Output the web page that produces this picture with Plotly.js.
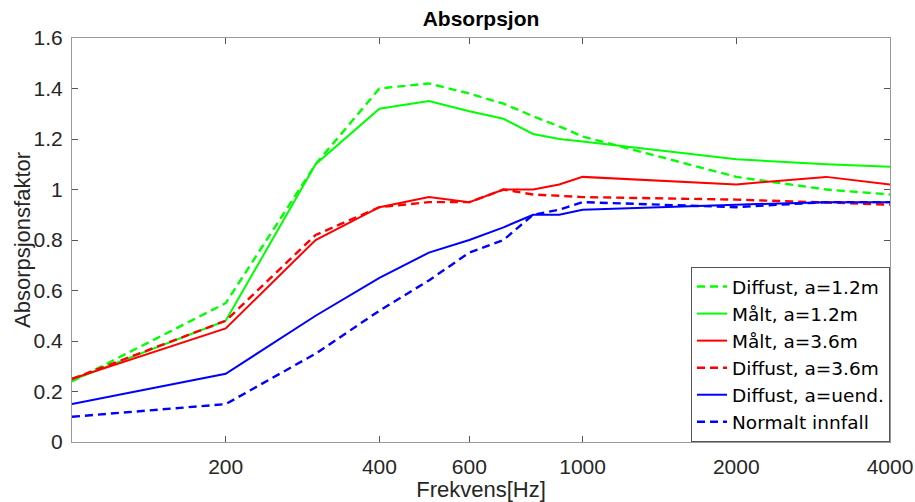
<!DOCTYPE html>
<html>
<head>
<meta charset="utf-8">
<script src="https://cdn.plot.ly/plotly-3.0.1.min.js"></script>
<style>html,body{margin:0;padding:0;background:#fff;}#chart{width:915px;height:502px;}</style>
</head>
<body>
<div id="chart"></div>
<script>
// Frequencies (Hz)
const freq = [100, 200, 300, 400, 500, 600, 700, 800, 900, 1000, 2000, 3000, 4000];
// Series values (absorption factor)
const diffust12 = [0.24, 0.55, 1.10, 1.40, 1.42, 1.38, 1.34, 1.29, 1.25, 1.21, 1.05, 1.00, 0.98];
const malt12    = [0.245, 0.48, 1.10, 1.32, 1.35, 1.31, 1.28, 1.22, 1.20, 1.19, 1.12, 1.10, 1.09];
const malt36    = [0.25, 0.45, 0.80, 0.93, 0.97, 0.95, 1.00, 1.00, 1.02, 1.05, 1.02, 1.05, 1.02];
const diffust36 = [0.25, 0.48, 0.82, 0.93, 0.95, 0.95, 1.00, 0.98, 0.975, 0.97, 0.96, 0.95, 0.94];
const diffustUend = [0.15, 0.27, 0.50, 0.65, 0.75, 0.80, 0.85, 0.90, 0.90, 0.92, 0.94, 0.95, 0.95];
const normalt   = [0.10, 0.15, 0.35, 0.52, 0.64, 0.75, 0.80, 0.90, 0.92, 0.95, 0.93, 0.95, 0.95];
// Labels
const seriesNames = ['Diffust, a=1.2m', 'Målt, a=1.2m', 'Målt, a=3.6m', 'Diffust, a=3.6m', 'Diffust, a=uend.', 'Normalt innfall'];
const xTickVals = [200, 400, 600, 1000, 2000, 4000];
const xTickText = ['200', '400', '600', '1000', '2000', '4000'];
const yTitle = 'Absorpsjonsfaktor';
const xTitle = 'Frekvens[Hz]';
const chartTitle = 'Absorpsjon';

const series = [diffust12, malt12, malt36, diffust36, diffustUend, normalt];
const colors = ['#00ff00', '#00ff00', '#ff0000', '#ff0000', '#0000ff', '#0000ff'];
const dashes = ['8px,5px', 'solid', 'solid', '8px,5px', 'solid', '8px,5px'];

const traces = series.map((ys, i) => ({
  x: freq, y: ys, type: 'scatter', mode: 'lines', name: seriesNames[i],
  line: {color: colors[i], width: dashes[i] === 'solid' ? 2 : 2.4, dash: dashes[i]}
}));

const fam = 'Liberation Sans, Arial, sans-serif';
const layout = {
  width: 915, height: 502,
  margin: {l: 72, r: 25, t: 38, b: 60},
  paper_bgcolor: '#fff', plot_bgcolor: '#fff',
  font: {family: fam, size: 21, color: '#262626'},
  showlegend: true,
  title: {text: '<b>' + chartTitle + '</b>', x: 0.5257, xanchor: 'center', y: 0.962, yanchor: 'middle', font: {family: fam, size: 21, color: '#000'}},
  xaxis: {
    type: 'log', range: [2, Math.log10(4000)],
    tickvals: xTickVals, ticktext: xTickText,
    ticks: 'inside', ticklen: 6, tickcolor: '#555', tickwidth: 1,
    showline: true, linecolor: '#999', linewidth: 1, mirror: 'ticks',
    showgrid: false, zeroline: false,
    ticklabelstandoff: 6,
    tickfont: {family: fam, size: 21, color: '#262626'},
    title: {text: xTitle, font: {family: fam, size: 22, color: '#262626'}}
  },
  yaxis: {
    range: [0, 1.6], dtick: 0.2, tick0: 0,
    ticks: 'inside', ticklen: 6, tickcolor: '#555', tickwidth: 1,
    showline: true, linecolor: '#999', linewidth: 1, mirror: 'ticks',
    showgrid: false, zeroline: false,
    ticklabelstandoff: 4,
    tickfont: {family: fam, size: 21, color: '#262626'}
  },
  annotations: [{
    text: yTitle, xref: 'paper', yref: 'paper',
    x: -50 / 818, y: 0.5, xanchor: 'center', yanchor: 'middle',
    textangle: -90, showarrow: false,
    font: {family: fam, size: 22, color: '#262626'}
  }],
  legend: {
    x: 1, xanchor: 'right', y: 0, yanchor: 'bottom',
    bgcolor: '#fff', bordercolor: '#555', borderwidth: 1,
    font: {family: 'DejaVu Sans, sans-serif', size: 18.5, color: '#000'},
    itemwidth: 30, tracegroupgap: 0
  }
};

Plotly.newPlot('chart', traces, layout, {displayModeBar: false, staticPlot: true});
</script>
</body>
</html>
